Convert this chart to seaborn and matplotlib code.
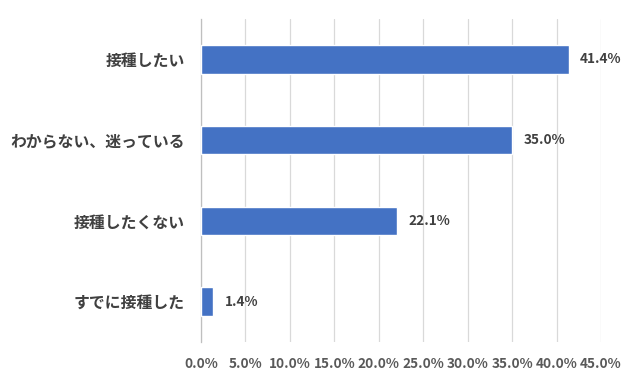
import matplotlib
matplotlib.use("Agg")
import matplotlib.pyplot as plt
import seaborn as sns
import pandas as pd
from matplotlib.ticker import MultipleLocator, FuncFormatter

categories = ["接種したい", "わからない、迷っている", "接種したくない", "すでに接種した"]
values = [41.4, 35.0, 22.1, 1.4]
value_labels = ["41.4%", "35.0%", "22.1%", "1.4%"]

sns.set_theme(style="white")
plt.rcParams['font.family'] = ['Noto Sans CJK JP', 'DejaVu Sans']

df = pd.DataFrame({"cat": categories, "val": values})

fig = plt.figure(figsize=(6.4, 3.81), dpi=100)
ax = fig.add_axes([201/640, 39/381, 400/640, 323/381])

sns.barplot(data=df, y="cat", x="val", orient="h", color="#4472C4",
            saturation=1, width=0.35, ax=ax, zorder=3)

ax.set_xlim(0, 45)
ax.xaxis.set_major_locator(MultipleLocator(5))
ax.xaxis.set_major_formatter(FuncFormatter(lambda v, p: f"{v:.1f}%"))
ax.grid(axis="x", color="#D9D9D9", linewidth=0.9, zorder=0)
ax.set_axisbelow(True)
for s in ["top", "right", "bottom"]:
    ax.spines[s].set_visible(False)
ax.spines["left"].set_color("#BFBFBF")
ax.spines["left"].set_linewidth(0.9)
ax.set_xlabel("")
ax.set_ylabel("")

ax.tick_params(axis="x", length=0, labelsize=9.8, labelcolor="#595959", pad=11)
ax.tick_params(axis="y", length=0, labelsize=11.4, labelcolor="#404040", pad=11.5)
for lab in ax.get_xticklabels():
    lab.set_fontweight("bold")
for lab in ax.get_yticklabels():
    lab.set_fontweight("bold")

for i, (v, t) in enumerate(zip(values, value_labels)):
    ax.text(v + 1.25, i, t, va="center", ha="left", fontsize=9.8,
            fontweight="bold", color="#404040")

fig.savefig("out.png", dpi=100)
